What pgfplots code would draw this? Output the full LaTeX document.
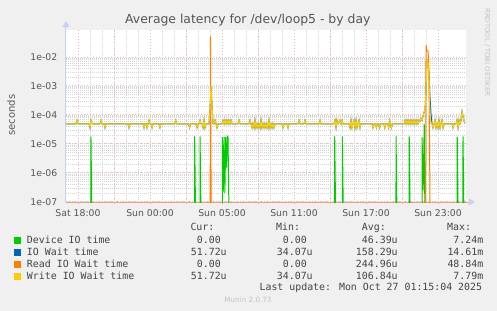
\documentclass[border=0pt]{standalone}
\usepackage{pgfplots}
\pgfplotsset{compat=1.18}
\usepackage{pgfplotstable}
\usepackage{fontspec}
\setmainfont{DejaVu Sans}
\newfontfamily\monofont{DejaVu Sans Mono}
\usetikzlibrary{arrows.meta}
\definecolor{bgc}{HTML}{F0F0F0}
\definecolor{devgreen}{HTML}{00CC00}
\definecolor{iowblue}{HTML}{0066B3}
\definecolor{readorange}{HTML}{FF8000}
\definecolor{writeyellow}{HTML}{FFCC00}
\definecolor{majgrid}{HTML}{EDB4B4}
\definecolor{mingrid}{HTML}{D6D6D6}
\definecolor{axsalmon}{HTML}{F0A080}
\definecolor{axblue}{HTML}{C8D0F4}
\definecolor{txt}{HTML}{555555}
\definecolor{legtxt}{HTML}{444444}
\definecolor{faint}{HTML}{C4C4C4}
\newcommand{\legrow}[5]{\makebox[0pt][l]{#1}\makebox[199.7bp][r]{#2}\makebox[86bp][r]{#3}\makebox[85bp][r]{#4}\makebox[85.6bp][r]{#5}}
\newcommand{\legfont}{\monofont\fontsize{9.9bp}{12bp}\selectfont}

% h = hours after Sat 18:00 ; w = write IO wait ; b = IO wait
\pgfplotstableread{
h w b
-1.00 4.9e-5 4.9e-5
-0.17 4.9e-5 4.9e-5
-0.08 6.5e-5 6.5e-5
0.00 4.9e-5 4.9e-5
0.92 4.9e-5 4.9e-5
1.00 3.6e-5 3.6e-5
1.08 6.5e-5 6.5e-5
1.17 4.9e-5 4.9e-5
1.83 4.9e-5 4.9e-5
1.92 6.5e-5 6.5e-5
2.00 4.9e-5 4.9e-5
2.17 4.9e-5 4.9e-5
2.25 3.6e-5 3.6e-5
2.33 4.9e-5 4.9e-5
4.17 4.9e-5 4.9e-5
4.25 3.6e-5 3.6e-5
4.33 4.9e-5 4.9e-5
5.42 4.9e-5 4.9e-5
5.50 3.6e-5 3.6e-5
5.58 4.9e-5 4.9e-5
5.67 4.9e-5 4.9e-5
5.75 3.6e-5 3.6e-5
5.83 4.9e-5 4.9e-5
5.92 6.5e-5 6.5e-5
6.00 4.9e-5 4.9e-5
6.08 4.9e-5 4.9e-5
6.17 3.6e-5 3.6e-5
6.25 4.9e-5 4.9e-5
6.75 4.9e-5 4.9e-5
6.83 3.6e-5 3.6e-5
6.92 4.9e-5 4.9e-5
8.06 4.9e-5 4.9e-5
8.14 6.5e-5 6.5e-5
8.22 4.9e-5 4.9e-5
9.22 4.9e-5 4.9e-5
9.30 3.6e-5 3.6e-5
9.38 4.9e-5 4.9e-5
9.83 4.9e-5 4.9e-5
9.92 3.6e-5 3.6e-5
10.00 4.9e-5 4.9e-5
10.08 4.9e-5 4.9e-5
10.17 6.5e-5 6.5e-5
10.25 4.9e-5 4.9e-5
10.33 4.9e-5 4.9e-5
10.42 3.6e-5 3.6e-5
10.50 6.5e-5 6.5e-5
10.58 3.6e-5 3.6e-5
10.67 4.9e-5 4.9e-5
10.92 4.9e-5 4.9e-5
11.00 1.5e-4 1.5e-4
11.08 1.0e-3 1.0e-3
11.17 2.0e-4 2.0e-4
11.25 4.9e-5 4.9e-5
11.33 4.9e-5 4.9e-5
11.42 6.5e-5 6.5e-5
11.50 4.9e-5 4.9e-5
11.58 3.6e-5 3.6e-5
11.67 4.9e-5 4.9e-5
12.00 4.9e-5 4.9e-5
12.08 6.5e-5 6.5e-5
12.17 4.9e-5 4.9e-5
12.25 6.5e-5 6.5e-5
12.33 4.9e-5 4.9e-5
12.42 6.5e-5 6.5e-5
12.50 4.9e-5 4.9e-5
12.58 6.5e-5 6.5e-5
12.67 4.9e-5 4.9e-5
12.75 6.5e-5 6.5e-5
12.83 4.9e-5 4.9e-5
13.33 4.9e-5 4.9e-5
13.42 6.5e-5 6.5e-5
13.50 4.9e-5 4.9e-5
14.25 4.9e-5 4.9e-5
14.33 6.5e-5 6.5e-5
14.42 4.9e-5 4.9e-5
14.50 3.6e-5 3.6e-5
14.58 4.9e-5 4.9e-5
14.67 3.6e-5 3.6e-5
14.75 6.5e-5 6.5e-5
14.83 3.6e-5 3.6e-5
14.92 4.9e-5 4.9e-5
15.00 3.6e-5 3.6e-5
15.08 4.9e-5 4.9e-5
15.17 3.6e-5 3.6e-5
15.25 6.5e-5 6.5e-5
15.33 3.6e-5 3.6e-5
15.42 4.9e-5 4.9e-5
15.50 3.6e-5 3.6e-5
15.58 4.9e-5 4.9e-5
15.67 3.6e-5 3.6e-5
15.75 4.9e-5 4.9e-5
15.83 3.6e-5 3.6e-5
15.92 6.5e-5 6.5e-5
16.00 3.6e-5 3.6e-5
16.08 4.9e-5 4.9e-5
16.17 3.6e-5 3.6e-5
16.25 4.9e-5 4.9e-5
16.33 3.6e-5 3.6e-5
16.42 4.9e-5 4.9e-5
17.00 4.9e-5 4.9e-5
17.08 3.6e-5 3.6e-5
17.17 4.9e-5 4.9e-5
17.42 4.9e-5 4.9e-5
17.50 3.6e-5 3.6e-5
17.58 4.9e-5 4.9e-5
18.33 4.9e-5 4.9e-5
18.42 6.5e-5 6.5e-5
18.50 4.9e-5 4.9e-5
18.83 4.9e-5 4.9e-5
18.92 6.5e-5 6.5e-5
19.00 4.9e-5 4.9e-5
20.08 4.9e-5 4.9e-5
20.17 6.5e-5 6.5e-5
20.25 4.9e-5 4.9e-5
21.33 4.9e-5 4.9e-5
21.42 6.5e-5 6.5e-5
21.50 3.6e-5 3.6e-5
21.58 6.5e-5 6.5e-5
21.67 4.9e-5 4.9e-5
21.83 6.5e-5 6.5e-5
21.92 4.9e-5 4.9e-5
22.00 6.5e-5 6.5e-5
22.08 4.9e-5 4.9e-5
22.58 4.9e-5 4.9e-5
22.67 3.6e-5 3.6e-5
22.75 6.5e-5 6.5e-5
22.83 3.6e-5 3.6e-5
22.92 4.9e-5 4.9e-5
23.00 6.5e-5 6.5e-5
23.08 3.6e-5 3.6e-5
23.17 6.5e-5 6.5e-5
23.25 3.6e-5 3.6e-5
23.33 4.9e-5 4.9e-5
23.42 6.5e-5 6.5e-5
23.50 3.6e-5 3.6e-5
23.58 4.9e-5 4.9e-5
24.50 4.9e-5 4.9e-5
24.58 3.6e-5 3.6e-5
24.67 4.9e-5 4.9e-5
24.79 4.9e-5 4.9e-5
24.87 3.6e-5 3.6e-5
24.95 4.9e-5 4.9e-5
25.06 4.9e-5 4.9e-5
25.14 3.6e-5 3.6e-5
25.22 4.9e-5 4.9e-5
25.48 4.9e-5 4.9e-5
25.56 3.6e-5 3.6e-5
25.64 4.9e-5 4.9e-5
25.81 4.9e-5 4.9e-5
25.89 3.6e-5 3.6e-5
25.97 6.5e-5 6.5e-5
26.05 4.9e-5 4.9e-5
26.12 3.6e-5 3.6e-5
26.20 4.9e-5 4.9e-5
27.17 4.9e-5 4.9e-5
27.25 6.5e-5 6.5e-5
27.33 4.9e-5 4.9e-5
27.42 6.5e-5 6.5e-5
27.50 4.9e-5 4.9e-5
27.58 6.5e-5 6.5e-5
27.67 4.9e-5 4.9e-5
27.75 6.5e-5 6.5e-5
27.83 4.9e-5 4.9e-5
27.92 6.5e-5 6.5e-5
28.00 4.9e-5 4.9e-5
28.08 6.5e-5 6.5e-5
28.17 4.9e-5 4.9e-5
28.25 6.5e-5 6.5e-5
28.33 4.9e-5 4.9e-5
28.42 6.5e-5 6.5e-5
28.50 6.0e-5 6.0e-5
28.58 7.5e-5 7.5e-5
28.67 6.5e-5 6.5e-5
28.75 9.0e-5 9.0e-5
28.83 1.2e-4 1.2e-4
28.92 1.6e-4 1.6e-4
29.00 8.0e-4 8.0e-4
29.08 7.8e-3 7.8e-3
29.17 6.0e-3 6.0e-3
29.25 1.5e-3 2.0e-3
29.33 9.0e-5 4.0e-4
29.42 4.9e-5 1.0e-4
29.50 4.9e-5 4.9e-5
29.58 3.6e-5 3.6e-5
29.67 4.9e-5 4.9e-5
29.75 6.5e-5 6.5e-5
29.83 3.6e-5 3.6e-5
29.92 4.9e-5 4.9e-5
30.00 3.6e-5 3.6e-5
30.08 6.5e-5 6.5e-5
30.17 3.6e-5 3.6e-5
30.25 4.9e-5 4.9e-5
30.33 6.5e-5 6.5e-5
30.42 3.6e-5 3.6e-5
30.50 4.9e-5 4.9e-5
31.17 4.9e-5 4.9e-5
31.25 3.6e-5 3.6e-5
31.33 4.9e-5 4.9e-5
31.50 4.9e-5 4.9e-5
31.58 6.5e-5 6.5e-5
31.67 3.6e-5 3.6e-5
31.75 6.5e-5 6.5e-5
31.83 4.9e-5 4.9e-5
31.92 6.5e-5 6.5e-5
32.00 1.3e-4 1.3e-4
32.08 9.0e-5 9.0e-5
32.17 6.0e-5 6.0e-5
32.25 5.17e-5 5.17e-5
}\latency

\begin{document}
\begin{tikzpicture}
\useasboundingbox (-66bp,-109bp) rectangle (431bp,202bp);
\fill[bgc] (-66bp,-109bp) rectangle (431bp,202bp);
\begin{axis}[
  at={(0,0)}, anchor=south west,
  scale only axis, width=400bp, height=172bp,
  xmin=-1.0, xmax=32.33,
  ymode=log, ymin=9.8e-8, ymax=0.085,
  axis background/.style={fill=white},
  axis x line*=bottom, axis y line*=left,
  x axis line style={draw=axsalmon, line width=1bp, shorten >=-9bp, -{Triangle[length=6bp,width=7bp,color=axblue]}},
  y axis line style={draw=axblue, line width=1bp, shorten >=-9bp, -{Triangle[length=6bp,width=7bp,color=axblue]}},
  xtick={0,6,12,18,24,30},
  xticklabels={Sat 18:00,Sun 00:00,Sun 05:00,Sun 11:00,Sun 17:00,Sun 23:00},
  extra x ticks={3,9,15,21,27},
  extra x tick labels={},
  extra x tick style={grid=major},
  minor x tick num=5,
  ytick={1e-7,1e-6,1e-5,1e-4,1e-3,1e-2},
  yticklabels={1e-07,1e-06,1e-05,1e-04,1e-03,1e-02},
  grid=both,
  major grid style={draw=majgrid, line width=0.8bp, dash pattern=on 1bp off 2bp},
  minor grid style={draw=mingrid, line width=0.7bp, dash pattern=on 1bp off 1bp},
  tick align=outside,
  major tick length=2bp, minor tick length=0pt,
  x tick style={draw=majgrid, line width=1bp},
  y tick style={draw=none},
  /pgf/number format/assume math mode=true,
  tick label style={font=\fontsize{9.3bp}{11bp}\selectfont, text=txt},
  yticklabel style={inner xsep=0pt, xshift=-6.5bp},
  xticklabel style={inner ysep=0pt, yshift=-5bp},
  legend image code/.code={\fill[#1] (0bp,-3.3bp) rectangle (6.6bp,3.3bp);},
  legend style={at={(-0.13075,-0.18779)}, anchor=north west, draw=none, fill=none,
    inner sep=0pt, outer sep=0pt, font=\legfont, column sep=5.7bp, row sep=0pt,
    cells={anchor=west},
    nodes={inner sep=0pt, text height=9bp, text depth=3bp, text=legtxt}},
]
\addplot[color=devgreen, line width=1bp] coordinates {
(-1,1e-10)(1.07,1e-10)(1.08,1.8e-5)(1.23,1e-10)
(9.71,1e-10)(9.72,1.8e-5)(9.87,1e-10)
(10.16,1e-10)(10.17,1.8e-5)(10.32,1e-10)
(12.02,1e-10)(12.03,1.7e-5)(12.10,2.2e-7)(12.17,1.7e-5)(12.24,2.0e-7)(12.31,1.7e-5)(12.38,1.5e-6)(12.45,1.8e-5)(12.50,1.7e-5)(12.66,1e-10)
(21.38,1e-10)(21.39,1.8e-5)(21.54,1e-10)
(22.02,1e-10)(22.03,1.8e-5)(22.18,1e-10)
(26.49,1e-10)(26.50,1.8e-5)(26.65,1e-10)
(27.59,1e-10)(27.60,1.8e-5)(27.75,1e-10)
(28.66,1e-10)(28.67,1.7e-5)(28.76,2.5e-7)(28.85,4.9e-5)(28.95,1e-10)
(31.59,1e-10)(31.60,1.7e-5)(31.75,1e-10)
(32.07,1e-10)(32.08,1.8e-5)(32.23,1e-10)(32.25,1e-10)
};
\addlegendentry{\legrow{Device IO time}{0.00\phantom{u}}{0.00\phantom{u}}{46.39u}{7.24m}}
\addplot[color=iowblue, line width=1bp] table[x=h, y=b] {\latency};
\addlegendentry{\legrow{IO Wait time}{51.72u}{34.07u}{158.29u}{14.61m}}
\addplot[color=readorange, line width=1bp] coordinates {
(-1,1e-10)(11.0,1e-10)(11.04,5.1e-2)(11.12,1e-10)
(28.95,1e-10)(29.0,2.6e-2)(29.08,1.6e-2)(29.17,1.6e-2)(29.25,3e-3)(29.38,1e-10)(32.25,1e-10)
};
\addlegendentry{\legrow{Read IO Wait time}{0.00\phantom{u}}{0.00\phantom{u}}{244.96u}{48.84m}}
\addplot[color=writeyellow, line width=1bp] table[x=h, y=w] {\latency};
\addlegendentry{\legrow{Write IO Wait time}{51.72u}{34.07u}{106.84u}{7.79m}}
\end{axis}
% titles and texts
\node[anchor=base, text=txt, font=\fontsize{12.4bp}{14bp}\selectfont] at (181.8bp,178bp) {Average latency for /dev/loop5 - by day};
\node[anchor=base, rotate=90, text=txt, font=\fontsize{10bp}{12bp}\selectfont] at (-51bp,87bp) {seconds};
\node[anchor=base west, rotate=-90, text=faint, font=\fontsize{6.8bp}{8bp}\selectfont] at (419bp,197bp) {RRDTOOL / TOBI OETIKER};
\node[anchor=base west, inner sep=0pt, text=legtxt, font=\legfont] at (124.3bp,-28bp) {Cur:};
\node[anchor=base west, inner sep=0pt, text=legtxt, font=\legfont] at (210bp,-28bp) {Min:};
\node[anchor=base west, inner sep=0pt, text=legtxt, font=\legfont] at (295.7bp,-28bp) {Avg:};
\node[anchor=base west, inner sep=0pt, text=legtxt, font=\legfont] at (381bp,-28bp) {Max:};
\node[anchor=base east, inner sep=0pt, text=legtxt, font=\legfont] at (416.3bp,-88.7bp) {Last update: Mon Oct 27 01:15:04 2025};
\node[anchor=base, inner sep=0pt, text=faint, font=\fontsize{7.2bp}{9bp}\selectfont] at (182bp,-100.7bp) {Munin 2.0.73};
\end{tikzpicture}
\end{document}
